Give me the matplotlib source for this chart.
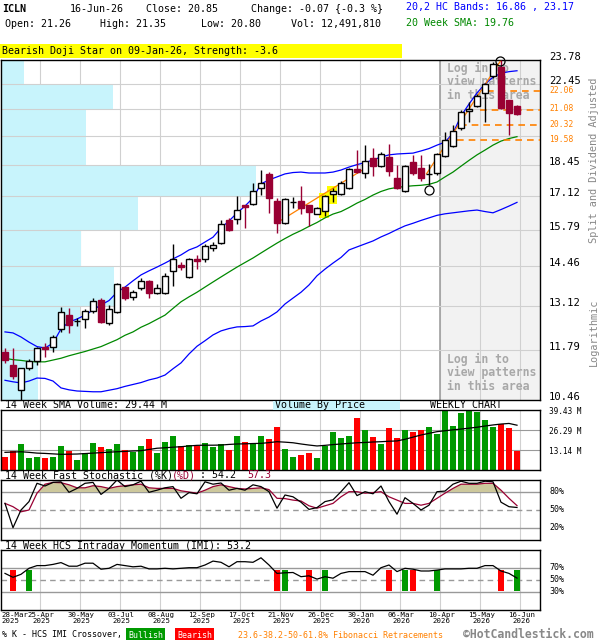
"""ICLN weekly candlestick chart, HotCandlestick style: price + volume + stochastic + IMI."""
import numpy as np
import matplotlib
matplotlib.use("Agg")
import matplotlib.pyplot as plt
import matplotlib.transforms as mtrans
from matplotlib.patches import Rectangle
from matplotlib.ticker import NullLocator

plt.rcParams["font.family"] = ["DejaVu Sans Mono", "DejaVu Sans"]

# ── Weekly OHLC (21-Mar-2025 .. 16-Jun-2026) ──────────────────────────
opens = [11.75, 11.38, 10.72, 11.30, 11.50, 11.89, 11.89, 12.41, 12.84, 12.65,
         12.71, 12.98, 13.32, 12.61, 12.95, 13.73, 13.41, 13.70, 13.95, 13.55,
         13.55, 14.30, 14.50, 14.07, 14.71, 14.70, 15.11, 15.30, 16.16, 16.19,
         16.75, 16.80, 17.44, 18.06, 16.92, 16.05, 16.86, 16.92, 16.75, 16.41,
         16.51, 17.20, 17.19, 17.47, 18.26, 18.10, 18.76, 18.43, 18.83, 17.87,
         17.33, 18.58, 18.31, 18.06, 18.10, 18.87, 19.33, 20.19, 21.02, 21.29,
         21.94, 22.89, 23.40, 21.59, 21.26]
highs = [11.85, 11.85, 11.31, 11.54, 11.88, 12.01, 12.24, 13.11, 13.05, 12.74,
         13.02, 13.37, 13.37, 13.16, 13.89, 13.75, 13.66, 14.04, 13.98, 13.83,
         14.23, 15.25, 14.61, 14.73, 14.85, 15.25, 15.32, 16.16, 16.23, 17.12,
         16.77, 17.66, 18.23, 18.16, 17.03, 17.03, 17.10, 17.54, 16.77, 16.66,
         17.17, 17.44, 17.77, 18.30, 19.13, 19.36, 19.21, 19.05, 19.39, 18.45,
         18.45, 18.91, 18.91, 18.48, 18.98, 19.98, 20.33, 21.07, 21.50, 21.88,
         22.49, 23.68, 23.78, 21.61, 21.35]
lows = [11.44, 11.00, 10.42, 11.25, 11.38, 11.61, 11.75, 12.34, 12.31, 12.51,
        12.46, 12.92, 12.59, 12.54, 12.90, 13.32, 13.32, 13.64, 13.37, 13.51,
        13.50, 13.79, 14.32, 14.04, 14.35, 14.61, 15.00, 15.25, 15.73, 15.99,
        15.86, 16.75, 17.16, 16.44, 15.65, 16.00, 16.62, 16.39, 15.93, 16.39,
        16.31, 16.89, 17.16, 17.40, 18.12, 17.89, 17.98, 18.38, 17.98, 17.41,
        17.30, 18.02, 17.75, 17.59, 18.02, 18.83, 19.29, 20.08, 20.48, 21.24,
        20.48, 22.78, 21.12, 19.84, 20.80]
closes = [11.52, 11.09, 11.30, 11.50, 11.85, 11.83, 12.19, 12.95, 12.54, 12.66,
          12.97, 13.30, 12.62, 13.02, 13.83, 13.37, 13.58, 13.96, 13.53, 13.70,
          14.12, 14.71, 14.41, 14.71, 14.64, 15.17, 15.21, 15.99, 15.77, 16.55,
          16.66, 17.33, 17.68, 17.03, 16.05, 17.00, 16.87, 16.62, 16.46, 16.64,
          17.13, 17.33, 17.68, 18.26, 18.16, 18.63, 18.43, 18.93, 18.19, 17.44,
          18.41, 18.10, 17.87, 18.07, 18.93, 19.60, 20.03, 20.95, 21.15, 21.79,
          22.43, 23.55, 21.19, 20.92, 20.85]

# 20,2 HC bands and 20 week SMA
band_upper = [12.33, 12.30, 12.18, 12.03, 11.90, 11.86, 12.00, 12.42, 12.63, 12.72,
              12.84, 13.00, 13.16, 13.30, 13.57, 13.74, 13.95, 14.15, 14.29, 14.42,
              14.56, 14.71, 14.85, 15.03, 15.14, 15.32, 15.50, 15.85, 16.12, 16.43,
              16.71, 17.04, 17.63, 17.80, 17.93, 18.06, 18.12, 18.14, 18.10, 18.10,
              18.10, 18.14, 18.23, 18.36, 18.47, 18.56, 18.68, 18.81, 18.91, 18.95,
              18.97, 18.99, 19.09, 19.20, 19.36, 19.50, 19.93, 20.77, 21.38, 21.96,
              22.44, 22.81, 23.03, 23.12, 23.17]
sma20 = [11.57, 11.53, 11.51, 11.48, 11.47, 11.47, 11.52, 11.57, 11.64, 11.70,
         11.76, 11.83, 11.90, 12.00, 12.10, 12.23, 12.33, 12.47, 12.58, 12.71,
         12.84, 13.05, 13.26, 13.42, 13.57, 13.74, 13.91, 14.08, 14.25, 14.42,
         14.58, 14.74, 14.92, 15.10, 15.28, 15.45, 15.61, 15.75, 15.91, 16.06,
         16.24, 16.39, 16.49, 16.65, 16.83, 16.98, 17.16, 17.31, 17.42, 17.48,
         17.52, 17.55, 17.57, 17.61, 17.71, 17.93, 18.14, 18.40, 18.66, 18.91,
         19.13, 19.36, 19.55, 19.67, 19.76]
band_lower = [10.97, 10.93, 10.90, 10.95, 11.03, 11.02, 10.95, 10.77, 10.72, 10.69,
              10.68, 10.67, 10.67, 10.71, 10.75, 10.81, 10.86, 10.91, 10.98, 11.03,
              11.11, 11.28, 11.44, 11.69, 11.91, 12.07, 12.24, 12.36, 12.43, 12.48,
              12.49, 12.51, 12.66, 12.78, 12.94, 13.19, 13.38, 13.57, 13.81, 14.12,
              14.35, 14.56, 14.76, 15.03, 15.14, 15.25, 15.36, 15.51, 15.64, 15.79,
              15.93, 16.03, 16.14, 16.24, 16.34, 16.40, 16.44, 16.48, 16.52, 16.55,
              16.49, 16.44, 16.57, 16.71, 16.86]

# volume (millions) and 14 week SMA of volume
volume = [8.7, 12.5, 17.1, 8.1, 8.7, 8.1, 8.7, 15.8, 12.5, 6.6,
          11.0, 17.7, 15.3, 13.8, 17.1, 13.1, 11.6, 15.8, 20.4, 11.2,
          18.4, 22.3, 15.8, 16.4, 16.0, 17.9, 15.1, 17.1, 13.1, 22.3,
          18.4, 17.7, 22.3, 20.6, 28.5, 14.0, 8.7, 9.9, 11.4, 7.7,
          16.0, 25.2, 21.2, 22.6, 34.4, 26.3, 21.7, 17.3, 27.8, 21.2,
          26.5, 25.2, 26.5, 28.5, 23.7, 39.4, 29.1, 37.7, 39.4, 38.3,
          33.1, 28.5, 30.0, 27.8, 12.49]
vol_sma = [11.6, 11.8, 12.0, 11.6, 11.1, 10.9, 10.6, 10.3, 10.4, 10.5,
           10.8, 11.1, 11.4, 11.7, 12.0, 12.2, 12.5, 12.7, 13.5, 14.3,
           14.6, 15.0, 15.3, 15.8, 16.2, 16.3, 16.3, 16.4, 16.8, 17.1,
           17.2, 17.4, 17.5, 18.0, 18.6, 18.3, 17.9, 17.1, 16.4, 15.8,
           16.2, 16.7, 17.1, 17.5, 17.9, 18.1, 18.4, 18.6, 18.9, 19.1,
           20.2, 21.6, 23.0, 24.1, 25.2, 25.8, 26.4, 26.9, 27.5, 28.1,
           28.9, 29.6, 30.2, 30.6, 29.44]

# 14 week fast stochastic
stoch_k = [61, 20.5, 50, 64, 94.5, 90, 96, 97, 79.5, 86,
           94.5, 96, 76, 86, 100, 89, 92, 98, 79.5, 83,
           87, 89, 69.5, 79, 77, 97, 93, 95, 83, 86,
           83, 92, 89, 80.5, 53, 75, 72, 63, 51, 54,
           64, 67, 80.5, 95.5, 74, 80.5, 77, 90, 64, 43,
           70.5, 61, 50, 58, 80.5, 81.5, 93, 98, 94.5, 94.5,
           98, 97, 63, 55.5, 54.2]
stoch_d = [61, 55.5, 47, 50, 78, 93, 96, 95.5, 92, 87,
           87, 90.5, 89, 86, 89, 90.5, 92, 93, 87, 86,
           86, 86, 82, 80, 78, 83, 89, 92, 89, 86,
           85, 86, 87, 84, 69.5, 69, 66.5, 65, 57, 53,
           57, 61, 72, 80.5, 80.5, 78, 79, 80.5, 72, 66.5,
           61, 61, 58, 61, 69.5, 78, 86, 93, 93, 93,
           94.5, 94.5, 83, 69.5, 57.3]

# 14 week HCS intraday momentum
imi = [61, 54.5, 59.5, 69.5, 74, 74, 76, 79, 73, 73,
       78, 78, 68, 69.5, 76, 74, 72, 73, 68.5, 68.5,
       69.5, 68.5, 69.5, 70.5, 70.5, 75, 81.5, 79.5, 72, 80.5,
       80.5, 79.5, 87, 75, 61, 62, 62.5, 55.5, 57, 51.5,
       55.5, 53, 61, 64, 64, 64, 58, 70.5, 75, 64,
       69.5, 68, 65, 65, 66.5, 68.5, 68.5, 68.5, 69.5, 69.5,
       74, 74, 65, 61, 53.2]
imi_bull = [3, 35, 40, 50, 54, 64]
imi_bear = [1, 34, 38, 48, 51, 62]

# price grid / volume by price (relative), bottom -> top
price_grid = [10.46, 11.79, 13.12, 14.46, 15.79, 17.12, 18.45, 19.79, 21.12, 22.45, 23.78]
price_labels = ["10.46", "11.79", "13.12", "14.46", "15.79", "17.12", "18.45",
                None, None, "22.45", "23.78"]
vbp = [37, 79, 113, 80, 137, 255, 85, 85, 112, 23]

# fibonacci retracements and their first week
fib_levels = [22.06, 21.08, 20.32, 19.58]
fib_start = [60.25, 59.4, 56.9, 56.5]
trend_lines = [((34, 16.05), (45, 18.30)), ((52.7, 18.07), (61.9, 23.70))]
highlight = [40, 41]
circles_k = [53, 61.9]
circles_p = [17.37, 23.75]

vol_ticks = [13.14, 26.29, 39.43]
date_labels = ["28-Mar\n2025", "25-Apr\n2025", "30-May\n2025", "03-Jul\n2025",
               "08-Aug\n2025", "12-Sep\n2025", "17-Oct\n2025", "21-Nov\n2025",
               "26-Dec\n2025", "30-Jan\n2026", "06-Mar\n2026", "10-Apr\n2026",
               "15-May\n2026", "16-Jun\n2026"]

# ── Layout ─────────────────────────────────────────────────────────────
W, H = 600, 640
N = len(closes)
k = np.arange(N)
XLIM = (-0.5, 66.875)
GRID_X = [(40 * j - 5) / 8 for j in range(14)]
SHADE_X = GRID_X[11]
BODY_W = 0.75

MAROON = "#990033"
VRED, VGREEN = "#ff0000", "#009900"
ORANGE = "#ff8000"
GRID, MID = "#d0d0d0", "#999999"
CYAN = "#c8f4fc"
FS = 7.2

o, h, l, c = map(np.array, (opens, highs, lows, closes))
up = c >= o

fig = plt.figure(figsize=(W / 100, H / 100), dpi=100)
fig.patch.set_facecolor("white")


def panel(top, bottom):
    a = fig.add_axes([1 / W, 1 - bottom / H, 539 / W, (bottom - top) / H])
    a.set_xlim(*XLIM)
    a.set_xticks([])
    a.set_yticks([])
    for sp in a.spines.values():
        sp.set_linewidth(1.0)
    for gx in GRID_X[1:]:
        a.axvline(gx, color=GRID, lw=0.8, zorder=0.5)
    return a


def ftext(x, y, s, **kw):
    kw.setdefault("fontsize", FS)
    kw.setdefault("va", "center")
    return fig.text(x / W, 1 - y / H, s, **kw)


def right_label(a, val, s, dy=0, **kw):
    tr = mtrans.blended_transform_factory(a.transAxes, a.transData)
    tr = mtrans.offset_copy(tr, fig=fig, x=0, y=dy, units="dots")
    a.text((549 - 1) / 539, val, s, transform=tr, va="center", ha="left", **kw)


# ── Price panel ───────────────────────────────────────────────────────
ax = panel(60, 400)
ax.set_yscale("log")
ax.set_ylim(price_grid[0], price_grid[-1])
ax.yaxis.set_major_locator(NullLocator())
ax.yaxis.set_minor_locator(NullLocator())

ax.axvspan(SHADE_X, XLIM[1], color="#f2f2f2", lw=0, zorder=0.2)
ax.axvline(SHADE_X, color="#a0a0a0", lw=1.2, zorder=0.6)

blend = mtrans.blended_transform_factory(ax.transAxes, ax.transData)
vmax = max(vbp)
for lo, hi, v in zip(price_grid[:-1], price_grid[1:], vbp):
    ax.add_patch(Rectangle((0, lo), v / vmax * 0.473, hi - lo, transform=blend,
                           facecolor=CYAN, lw=0, zorder=1))
for p in price_grid[1:-1]:
    ax.axhline(p, color=GRID, lw=0.8, zorder=1.1)

for ytop in (61.5, 352.5):
    ax.text((447 - 1) / 539, (400 - ytop) / 340, "Log in to\nview patterns\nin this area",
            transform=ax.transAxes, ha="left", va="top", fontsize=8.3,
            fontweight="bold", color="#a8a8a8", linespacing=1.08, zorder=1.5)

for hk in highlight:
    ax.add_patch(Rectangle((hk - 0.72, l[hk] * 0.995), 1.28,
                           h[hk] * 1.005 - l[hk] * 0.995,
                           facecolor="#ffff00", lw=0, zorder=2.2))

ax.plot(k, band_upper, color="#0000ff", lw=0.9, zorder=2.5)
ax.plot(k, band_lower, color="#0000ff", lw=0.9, zorder=2.5)
ax.plot(k, sma20, color="#008800", lw=0.9, zorder=2.5)

for (x0, p0), (x1, p1) in trend_lines:
    ax.plot([x0, x1], [p0, p1], color=ORANGE, lw=0.9, zorder=2.6)

for lvl, xs in zip(fib_levels, fib_start):
    ax.hlines(lvl, xs, XLIM[1], colors=ORANGE, lw=1.2, linestyles=(0, (4, 3)), zorder=2.6)
    right_label(ax, lvl, f"{lvl:.2f}", dy=1, fontsize=5.8, color=ORANGE)

edge = np.where(up, "black", MAROON)
face = np.where(up, "white", MAROON)
ax.vlines(k, l, h, colors=edge, lw=1.0, zorder=3)
ax.bar(k, np.abs(c - o), bottom=np.minimum(o, c), width=BODY_W,
       color=face, edgecolor=edge, lw=1.0, zorder=4)

ax.plot(circles_k, circles_p, "o", ms=6.5, mfc="none", mec="black", mew=0.9,
        zorder=5, clip_on=False)

for p, lab in zip(price_grid, price_labels):
    if lab:
        right_label(ax, p, lab, dy=3, fontsize=7.6)

# ── Volume panel ──────────────────────────────────────────────────────
axv = panel(410, 470)
axv.set_ylim(0, vol_ticks[-1])
for lvl in vol_ticks[:-1]:
    axv.axhline(lvl, color=MID, lw=0.8, zorder=0.6)
axv.bar(k, volume, width=BODY_W, color=np.where(up, VGREEN, VRED), lw=0, zorder=2)
axv.plot(k, vol_sma, color="black", lw=0.9, zorder=3)
for lvl in vol_ticks:
    right_label(axv, lvl, f"{lvl:.2f} M", dy=-1.5, fontsize=5.6)

# ── Stochastic panel ──────────────────────────────────────────────────
axs = panel(480, 540)
axs.set_ylim(0, 100)
axs.axhline(80, color=MID, lw=1.0, zorder=0.6)
axs.axhline(20, color=MID, lw=1.0, zorder=0.6)
axs.axhline(50, color=MID, lw=1.0, ls=(0, (4, 3)), zorder=0.6)
sd = np.array(stoch_d)
axs.fill_between(k, 80, sd, where=sd > 80, interpolate=True, color="#cdc89c", lw=0, zorder=1)
axs.plot(k, stoch_d, color=MAROON, lw=0.9, zorder=2)
axs.plot(k, stoch_k, color="black", lw=0.9, zorder=3)
for lvl in (80, 50, 20):
    right_label(axs, lvl, f"{lvl}%", fontsize=6.0)

# ── IMI panel ─────────────────────────────────────────────────────────
axi = panel(550, 610)
axi.set_ylim(0, 100)
axi.axhline(70, color=MID, lw=1.0, zorder=0.6)
axi.axhline(30, color=MID, lw=1.0, zorder=0.6)
axi.axhline(50, color=MID, lw=1.0, ls=(0, (4, 3)), zorder=0.6)
axi.bar(imi_bull, 35, bottom=31.7, width=BODY_W, color=VGREEN, lw=0, zorder=2)
axi.bar(imi_bear, 35, bottom=31.7, width=BODY_W, color=VRED, lw=0, zorder=2)
axi.plot(k, imi, color="black", lw=0.9, zorder=3)
for lvl in (70, 50, 30):
    right_label(axi, lvl, f"{lvl}%", fontsize=6.0)

dtr = mtrans.blended_transform_factory(axi.transData, axi.transAxes)
for j, lab in enumerate(date_labels):
    xj, ha = (XLIM[0], "left") if j == 0 else (GRID_X[j] + 0.15, "center")
    axi.text(xj, -0.03, lab, transform=dtr, ha=ha, va="top", fontsize=5.3,
             linespacing=0.95)

# ── Header / titles / footer ──────────────────────────────────────────
ftext(2, 9, "ICLN", fontweight="bold")
ftext(70, 9, "16-Jun-26")
ftext(146, 9, "Close: 20.85")
ftext(251, 9, "Change: -0.07 {-0.3 %}")
ftext(5, 24, "Open: 21.26")
ftext(100, 24, "High: 21.35")
ftext(201, 24, "Low: 20.80")
ftext(291, 24, "Vol: 12,491,810")
ftext(406, 7, "20,2 HC Bands: 16.86 , 23.17", color="#0000ff")
ftext(406, 23, "20 Week SMA: 19.76", color="#008800")

fig.add_artist(Rectangle((0, 1 - 58 / H), 402 / W, 14 / H, transform=fig.transFigure,
                         facecolor="#ffff00", lw=0))
ftext(2, 51, "Bearish Doji Star on 09-Jan-26, Strength: -3.6")

ftext(594, 160, "Split and Dividend Adjusted", rotation=90, ha="center",
      color="#888888", fontsize=7.4)
ftext(594, 332, "Logarithmic", rotation=90, ha="center", color="#888888", fontsize=7.4)

ftext(5, 405, "14 Week SMA Volume: 29.44 M")
fig.add_artist(Rectangle((273 / W, 1 - 410 / H), 127 / W, 9.5 / H,
                         transform=fig.transFigure, facecolor=CYAN, lw=0))
ftext(275, 405.5, "Volume By Price")
ftext(430, 405, "WEEKLY CHART")

ftext(5, 475.5, "14 Week Fast Stochastic (%K)")
ftext(172, 475.5, "(%D)", color=MAROON)
ftext(200, 475.5, ": 54.2")
ftext(247, 475.5, "57.3", color=MAROON)

ftext(5, 546, "14 Week HCS Intraday Momentum (IMI): 53.2")

ftext(2, 635, "% K - HCS IMI Crossover,", fontsize=6.0)
ftext(128, 635, "Bullish", color="white", fontsize=6.0,
      bbox=dict(facecolor=VGREEN, edgecolor="none", boxstyle="square,pad=0.25"))
ftext(177, 635, "Bearish", color="white", fontsize=6.0,
      bbox=dict(facecolor=VRED, edgecolor="none", boxstyle="square,pad=0.25"))
ftext(238, 635, "23.6-38.2-50-61.8% Fibonacci Retracements", color=ORANGE, fontsize=6.0)
ftext(463, 635, "©HotCandlestick.com", color="#888888", fontsize=8.3, fontweight="bold")

fig.savefig("out.png", dpi=100, facecolor="white")
print("saved out.png")
